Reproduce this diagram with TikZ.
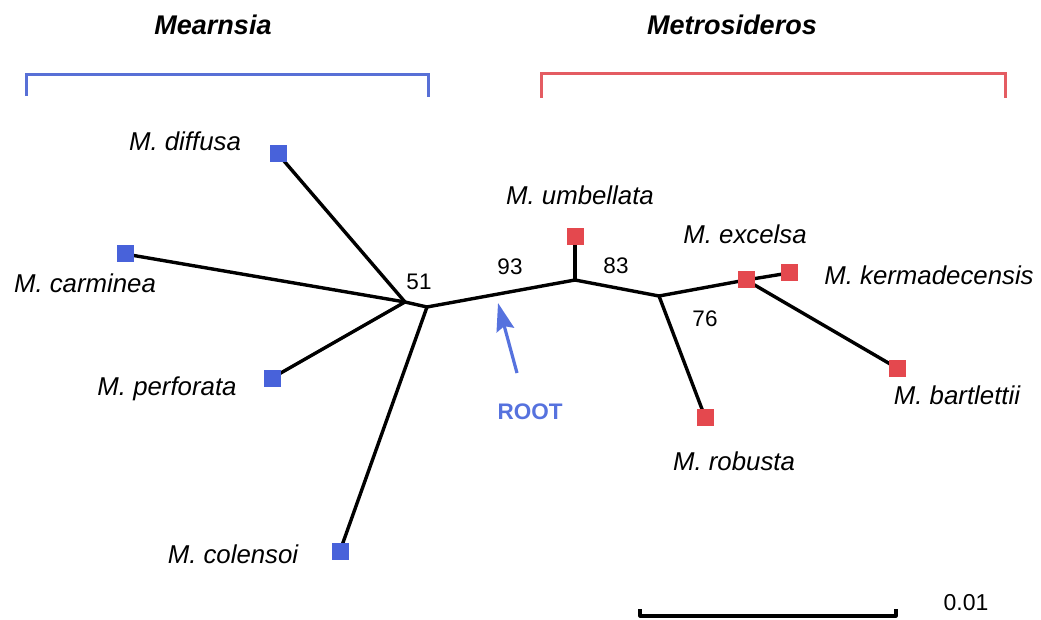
\documentclass[tikz,border=0pt]{standalone}
\usepackage{fontspec}
\setmainfont{Liberation Sans}
\usetikzlibrary{arrows.meta,backgrounds}
\definecolor{leafblue}{RGB}{72,98,218}
\definecolor{leafred}{RGB}{228,72,78}
\definecolor{bracketblue}{RGB}{88,112,214}
\definecolor{bracketred}{RGB}{228,92,98}
\definecolor{rootblue}{RGB}{86,114,222}
\tikzset{
  branch/.style={line width=3.4pt, black, line cap=round, line join=round},
  leafbox/.style={rectangle, minimum size=17pt, inner sep=0pt, draw=none},
  blueleaf/.style={leafbox, fill=leafblue},
  redleaf/.style={leafbox, fill=leafred},
  taxon/.style={anchor=base, inner sep=0pt, font=\fontsize{25.8}{30}\selectfont\itshape},
  support/.style={anchor=base, inner sep=0pt, font=\fontsize{22.5}{26}\selectfont},
  cladetitle/.style={anchor=base, inner sep=0pt, font=\fontsize{27}{32}\selectfont\bfseries\itshape},
  bluebracket/.style={line width=3pt, bracketblue},
  redbracket/.style={line width=3pt, bracketred},
  rootlabel/.style={anchor=base, inner sep=0pt, text=rootblue, font=\fontsize{22.5}{27}\selectfont\bfseries},
  rootarrow/.style={line width=3.2pt, rootblue, -{Stealth[length=28pt,width=18pt,inset=4pt]}},
  scalebar/.style={line width=3.2pt, black, line join=round}
}
\begin{document}
\begin{tikzpicture}[x=1pt, y=-1pt]
\useasboundingbox (0,0) rectangle (1041,620);

% clade titles and brackets
\node[cladetitle] (tmearnsia) at (213,35) {Mearnsia};
\node[cladetitle] (tmetrosideros) at (732,35) {Metrosideros};
\draw[bluebracket] (26,96) -- (26,75) -- (428,75) -- (428,97);
\draw[redbracket] (541,98) -- (541,74) -- (1005,74) -- (1005,98);

% terminal taxa
\node[blueleaf] (diffusa) at (278,154) {};
\node[blueleaf] (carminea) at (125,254) {};
\node[blueleaf] (perforata) at (272,378) {};
\node[blueleaf] (colensoi) at (340,551) {};
\node[redleaf] (umbellata) at (575,237) {};
\node[redleaf] (excelsa) at (746,280) {};
\node[redleaf] (kermadecensis) at (789,273) {};
\node[redleaf] (bartlettii) at (897,368) {};
\node[redleaf] (robusta) at (705,417) {};

% internal nodes
\coordinate (nA) at (405,302);
\coordinate (nB) at (427,307);
\coordinate (nC) at (575,280);
\coordinate (nD) at (659,296);

% branches, kept beneath the taxon squares
\begin{scope}[on background layer]
  \draw[branch] (diffusa.center) -- (nA);
  \draw[branch] (carminea.center) -- (nA);
  \draw[branch] (perforata.center) -- (nA);
  \draw[branch] (nA) -- (nB);
  \draw[branch] (colensoi.center) -- (nB);
  \draw[branch] (nB) -- (nC);
  \draw[branch] (nC) -- (umbellata.center);
  \draw[branch] (nC) -- (nD);
  \draw[branch] (nD) -- (robusta.center);
  \draw[branch] (nD) -- (excelsa.center);
  \draw[branch] (excelsa.center) -- (kermadecensis.center);
  \draw[branch] (excelsa.center) -- (bartlettii.center);
\end{scope}

% taxon names
\node[taxon] (ldiffusa) at (185,151) {M. diffusa};
\node[taxon] (lcarminea) at (85,293) {M. carminea};
\node[taxon] (lperforata) at (167,395) {M. perforata};
\node[taxon] (lcolensoi) at (233,563) {M. colensoi};
\node[taxon] (lumbellata) at (580,205) {M. umbellata};
\node[taxon] (lexcelsa) at (745,244) {M. excelsa};
\node[taxon] (lkermadecensis) at (929,285) {M. kermadecensis};
\node[taxon] (lbartlettii) at (957,404) {M. bartlettii};
\node[taxon] (lrobusta) at (734,470) {M. robusta};

% bootstrap support
\node[support] (s51) at (419,290) {51};
\node[support] (s93) at (510,275) {93};
\node[support] (s83) at (616,273) {83};
\node[support] (s76) at (705,326) {76};

% root marker
\node[rootlabel] (root) at (530,419) {ROOT};
\coordinate (rootTail) at (517,373);
\coordinate (rootTip) at (498,303);
\draw[rootarrow] (rootTail) -- (rootTip);

% scale bar
\coordinate (sbL) at (640,616);
\coordinate (sbR) at (896,616);
\draw[scalebar] ([yshift=7pt]sbL) -- (sbL) -- (sbR) -- ([yshift=7pt]sbR);
\node[support, font=\fontsize{23}{27}\selectfont] (scale) at (966,610) {0.01};
\end{tikzpicture}
\end{document}
